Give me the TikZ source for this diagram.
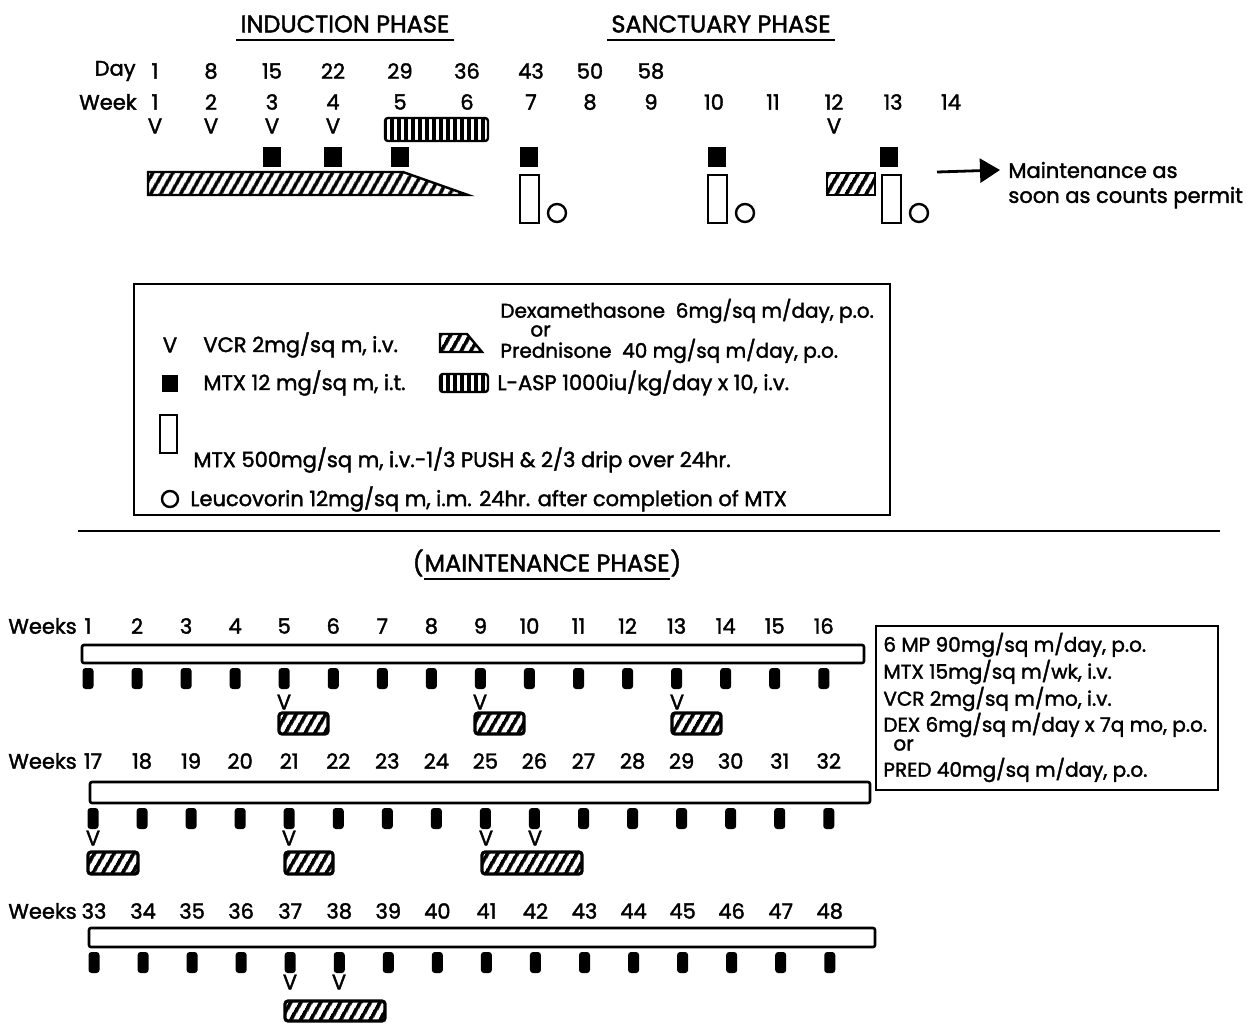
\documentclass[tikz,border=0pt]{standalone}
\usepackage{fontspec}
\setmainfont{Poppins}[FakeBold=1.8]
\usetikzlibrary{arrows.meta, positioning, patterns.meta}
\tikzset{
	txt/.style      ={inner sep=0pt, font=\fontsize{10.5}{12}\selectfont},
	small/.style    ={inner sep=0pt, font=\fontsize{10}{12}\selectfont},
	head/.style     ={inner sep=0pt, font=\fontsize{12}{14}\selectfont},
	hatch/.style    ={draw=black, line width=1.2pt, pattern={Lines[angle=60, distance=4pt, line width=1.9pt]}},
	hatchbox/.style ={hatch, line width=1.6pt, rounded corners=1.5pt},
	lasp/.style     ={draw=black, line width=1.2pt, rounded corners=1.5pt, pattern={Lines[angle=90, distance=3.5pt, line width=1.6pt]}},
	itdose/.style   ={fill=black},
	hdbox/.style    ={draw=black, line width=1.2pt},
	frame/.style    ={draw=black, line width=1.3pt},
	mtxwk/.style    ={fill=black, rounded corners=1.5pt},
	flowarrow/.style={-{Triangle[length=10pt, width=12pt]}, line width=1.4pt},
}
\begin{document}
\begin{tikzpicture}[x=0.5pt, y=-0.5pt]
\useasboundingbox (0,0) rectangle (1247,1023);
% induction and sanctuary
\node[head] (indph) at (345,24) {INDUCTION PHASE};
\node[head] (sanph) at (721,24) {SANCTUARY PHASE};
\foreach \ph in {indph, sanph}
	\draw[line width=1.1pt] ([xshift=-2pt, yshift=-3.5pt]\ph.south west) -- ([xshift=2pt, yshift=-3.5pt]\ph.south east);
\node[txt, anchor=east] (day) at (136,71) {Day};
\node[txt, anchor=east] (week) at (137,102) {Week};
\foreach \x/\d [count=\i] in {155/1, 211/8, 272/15, 333/22, 400/29, 467/36, 531/43, 590/50, 651/58}
	\node[txt] (d\i) at (\x,71) {\d};
\foreach \x [count=\i] in {155,211,272,333,400,467,531,590,651,714,773,834,893,951}
	\node[txt] (w\i) at (\x,102) {\i};
\foreach \x [count=\i] in {155,211,272,333,834}
	\node[txt] (v\i) at (\x,126) {V};
\draw[lasp] (385,118) rectangle (488,141);
\foreach \x in {272,333,400,529,717,889}
	\fill[itdose] (\x-9,147) rectangle ++(18,20);
\draw[hatch] (148,172) -- (403,172) -- (468,195) -- (148,195) -- cycle;
\foreach \x in {520,708,882} {
	\draw[hdbox] (\x,175) rectangle ++(19,48);
	\draw[hdbox] (\x+37,213) circle (4.5pt);
}
\draw[hatch] (827,173) rectangle (875,195);
\coordinate (arr) at (937,172);
\node[txt, anchor=west] (m1) at (1008,170) {Maintenance as};
\node[txt, below=4pt of m1.south west, anchor=north west] (m2) {soon as counts permit};
\draw[flowarrow] (arr) -- ([xshift=-4pt]m1.west);
% legend
\draw[frame] (134,284) rectangle (890,515);
\node[txt] (lv) at (170,345) {V};
\node[txt, anchor=west] (lvcr) at (203,345) {VCR 2mg/sq m, i.v.};
\fill[itdose] (162,375) rectangle (178,392);
\node[txt, anchor=west] (lmtx) at (203,383) {MTX 12 mg/sq m, i.t.};
\draw[hatch] (440,334) -- (467,334) -- (482,352) -- (440,352) -- cycle;
\node[small, anchor=west] (ldex) at (500,311) {Dexamethasone\ \ 6mg/sq m/day, p.o.};
\node[small, anchor=west] (lor) at (530,331) {or};
\node[small, anchor=west] (lpred) at (500,351) {Prednisone\ \ 40 mg/sq m/day, p.o.};
\draw[lasp] (440,374) rectangle (488,392);
\node[txt, anchor=west] (lasp) at (497,383) {L-ASP 1000iu/kg/day x 10, i.v.};
\draw[hdbox] (160,415) rectangle (177,453);
\node[txt, anchor=west] (lhd) at (193,460) {MTX 500mg/sq m, i.v.-1/3 PUSH \& 2/3 drip over 24hr.};
\draw[hdbox] (170,499) circle (4pt);
\node[txt, anchor=west] (lleu) at (190,499) {Leucovorin 12mg/sq m, i.m. 24hr. after completion of MTX};
% maintenance
\draw[line width=1.3pt] (78,531) -- (1220,531);
\node[head] (mph) at (547,563) {MAINTENANCE PHASE};
\node[head, left=0pt of mph] (lpar) {(};
\node[head, right=0pt of mph] (rpar) {)};
\draw[line width=1.1pt] ([yshift=-3.5pt]mph.south west) -- ([yshift=-3.5pt]mph.south east);
\foreach \ny/\xo/\bt/\bb/\bl/\br/\mt/\fw [count=\r] in {626/88/645/663/82/864/668/1, 761/93/782/803/90/870/808/17, 911/94/928/947/89/875/952/33} {
	\node[txt, anchor=west] (wk\r) at (8,\ny) {Weeks};
	\draw[frame, rounded corners=1pt] (\bl,\bt) rectangle (\br,\bb);
	\foreach \k in {0,...,15} {
		\pgfmathtruncatemacro\n{\fw+\k}
		\node[txt] (m\n) at ({\xo+49.05*\k},\ny) {\n};
		\fill[mtxwk] ({\xo+49.05*\k-5.5},\mt) rectangle ++(11,21);
	}
}
\foreach \x/\y [count=\i] in {284/702, 480/702, 677/702, 93/838, 289/838, 486/838, 535/838, 290/982, 339/982}
	\node[txt] (mv\i) at (\x,\y) {V};
\draw[hatchbox] (279,713) rectangle ++(49,21);
\draw[hatchbox] (475,713) rectangle ++(49,21);
\draw[hatchbox] (672,713) rectangle ++(49,21);
\draw[hatchbox] (88,852) rectangle (138,874);
\draw[hatchbox] (285,852) rectangle (333,874);
\draw[hatchbox] (482,852) rectangle (582,874);
\draw[hatchbox] (285,1001) rectangle (385,1021);
\draw[frame] (876,626) rectangle (1218,790);
\node[small, anchor=west] (r1) at (883,645) {6 MP 90mg/sq m/day, p.o.};
\node[small, anchor=west] (r2) at (883,672) {MTX 15mg/sq m/wk, i.v.};
\node[small, anchor=west] (r3) at (883,699) {VCR 2mg/sq m/mo, i.v.};
\node[small, anchor=west] (r4) at (883,725) {DEX 6mg/sq m/day x 7q mo, p.o.};
\node[small, anchor=west] (r5) at (893,745) {or};
\node[small, anchor=west] (r6) at (883,770) {PRED 40mg/sq m/day, p.o.};
\end{tikzpicture}
\end{document}
